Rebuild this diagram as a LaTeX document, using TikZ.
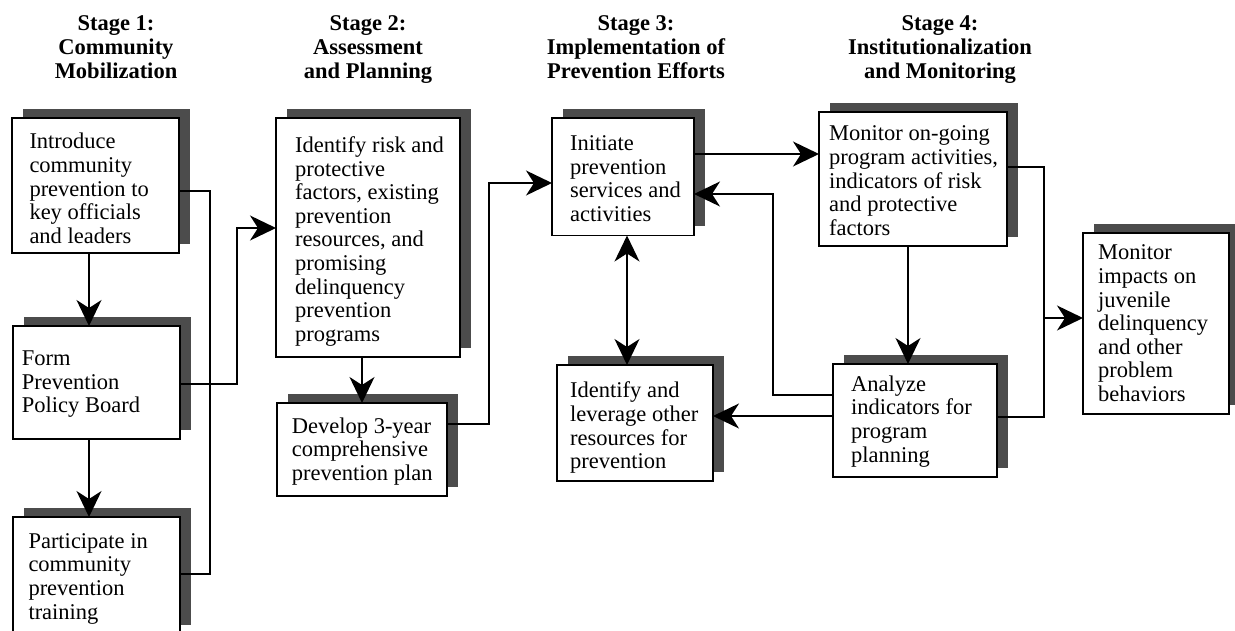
\documentclass[tikz,border=0pt]{standalone}
\usepackage{fontspec}
\setmainfont{Liberation Serif}
\usetikzlibrary{arrows.meta,shadows}

\tikzset{
  stagebox/.style={draw=black, line width=1.3pt, fill=white, inner sep=0pt, outer sep=0pt,
    anchor=north west,
    general shadow={fill=black!70, shadow xshift=10.5pt, shadow yshift=9.5pt}},
  boxtext/.style={anchor=north west, inner sep=0pt, align=left,
    font=\fontsize{22.5}{23.6}\selectfont},
  stagetitle/.style={anchor=north, inner sep=0pt, align=center,
    font=\bfseries\fontsize{22.5}{23.7}\selectfont},
  link/.style={line width=1.6pt, draw=black},
  tip/.tip={Stealth[length=26pt, width=25pt, inset=8pt]},
  arr/.style={link, -tip},
  darr/.style={link, tip-tip},
}

\begin{document}
\begin{tikzpicture}[x=1pt, y=-1pt]
\useasboundingbox (0,0) rectangle (1235,630);

% stage headings
\node[stagetitle] (s1) at (116,15.5) {Stage 1:\\Community\\Mobilization};
\node[stagetitle] (s2) at (368,15.5) {Stage 2:\\Assessment\\and Planning};
\node[stagetitle] (s3) at (636,15.5) {Stage 3:\\Implementation of\\Prevention Efforts};
\node[stagetitle] (s4) at (940,15.5) {Stage 4:\\Institutionalization\\and Monitoring};

% stage 1
\node[stagebox, minimum width=167pt, minimum height=135pt] (b1) at (12,118) {};
\node[stagebox, minimum width=167pt, minimum height=113pt] (b2) at (13,326) {};
\node[stagebox, minimum width=167pt, minimum height=117pt] (b3) at (13,517) {};
% stage 2
\node[stagebox, minimum width=184pt, minimum height=239pt] (b4) at (276,118) {};
\node[stagebox, minimum width=170pt, minimum height=93pt] (b5) at (277,403) {};
% stage 3
\node[stagebox, minimum width=142pt, minimum height=117.5pt] (b6) at (552,118) {};
\node[stagebox, minimum width=156pt, minimum height=116pt] (b7) at (557,365) {};
% stage 4
\node[stagebox, minimum width=188pt, minimum height=134pt] (b8) at (819,112) {};
\node[stagebox, minimum width=164pt, minimum height=113pt] (b9) at (833,364) {};
\node[stagebox, minimum width=146pt, minimum height=181pt] (b10) at (1083,233) {};

% box texts
\node[boxtext] (t1) at (29.3,133.1) {Introduce\\community\\prevention to\\key officials\\and leaders};
\node[boxtext] (t2) at (21.7,350.5) {Form\\Prevention\\Policy Board};
\node[boxtext] (t3) at (28.3,533.1) {Participate in\\community\\prevention\\training};
\node[boxtext] (t4) at (295,136.5) {Identify risk and\\protective\\factors, existing\\prevention\\resources, and\\promising\\delinquency\\prevention\\programs};
\node[boxtext] (t5) at (291.7,417.5) {Develop 3-year\\comprehensive\\prevention plan};
\node[boxtext] (t6) at (570,135.5) {Initiate\\prevention\\services and\\activities};
\node[boxtext] (t7) at (570,381.8) {Identify and\\leverage other\\resources for\\prevention};
\node[boxtext] (t8) at (829,125.8) {Monitor on-going\\program activities,\\indicators of risk\\and protective\\factors};
\node[boxtext] (t9) at (851,375.5) {Analyze\\indicators for\\program\\planning};
\node[boxtext] (t10) at (1098,244.8) {Monitor\\impacts on\\juvenile\\delinquency\\and other\\problem\\behaviors};

% stage 1 connectors
\draw[arr] (b1.south -| 89,0) -- (b2.north -| 89,0);
\draw[arr] (b2.south -| 89,0) -- (b3.north -| 89,0);
\draw[link] (b1.east |- 0,191) -- (210,191) |- (b3.east |- 0,574);
\draw[arr] (b2.east |- 0,384) -- (237,384) |- (b4.west |- 0,228);

% stage 2 connectors
\draw[arr] (b4.south -| 362,0) -- (b5.north -| 362,0);
\draw[arr] (b5.east |- 0,424) -- (489,424) |- (b6.west |- 0,183);

% stage 3 connectors
\draw[arr] (b6.east |- 0,154) -- (b8.west |- 0,154);
\draw[darr] (b6.south -| 627,0) -- (b7.north -| 627,0);
\draw[arr] (b9.west |- 0,395) -- (773,395) |- (b6.east |- 0,194);
\draw[arr] (b9.west |- 0,416) -- (b7.east |- 0,416);

% stage 4 connectors
\draw[arr] (b8.south -| 908,0) -- (b9.north -| 908,0);
\draw[link] (b8.east |- 0,167) -- (1044,167) |- (b9.east |- 0,417);
\draw[arr] (1044,318) -- (b10.west |- 0,318);
\end{tikzpicture}
\end{document}
